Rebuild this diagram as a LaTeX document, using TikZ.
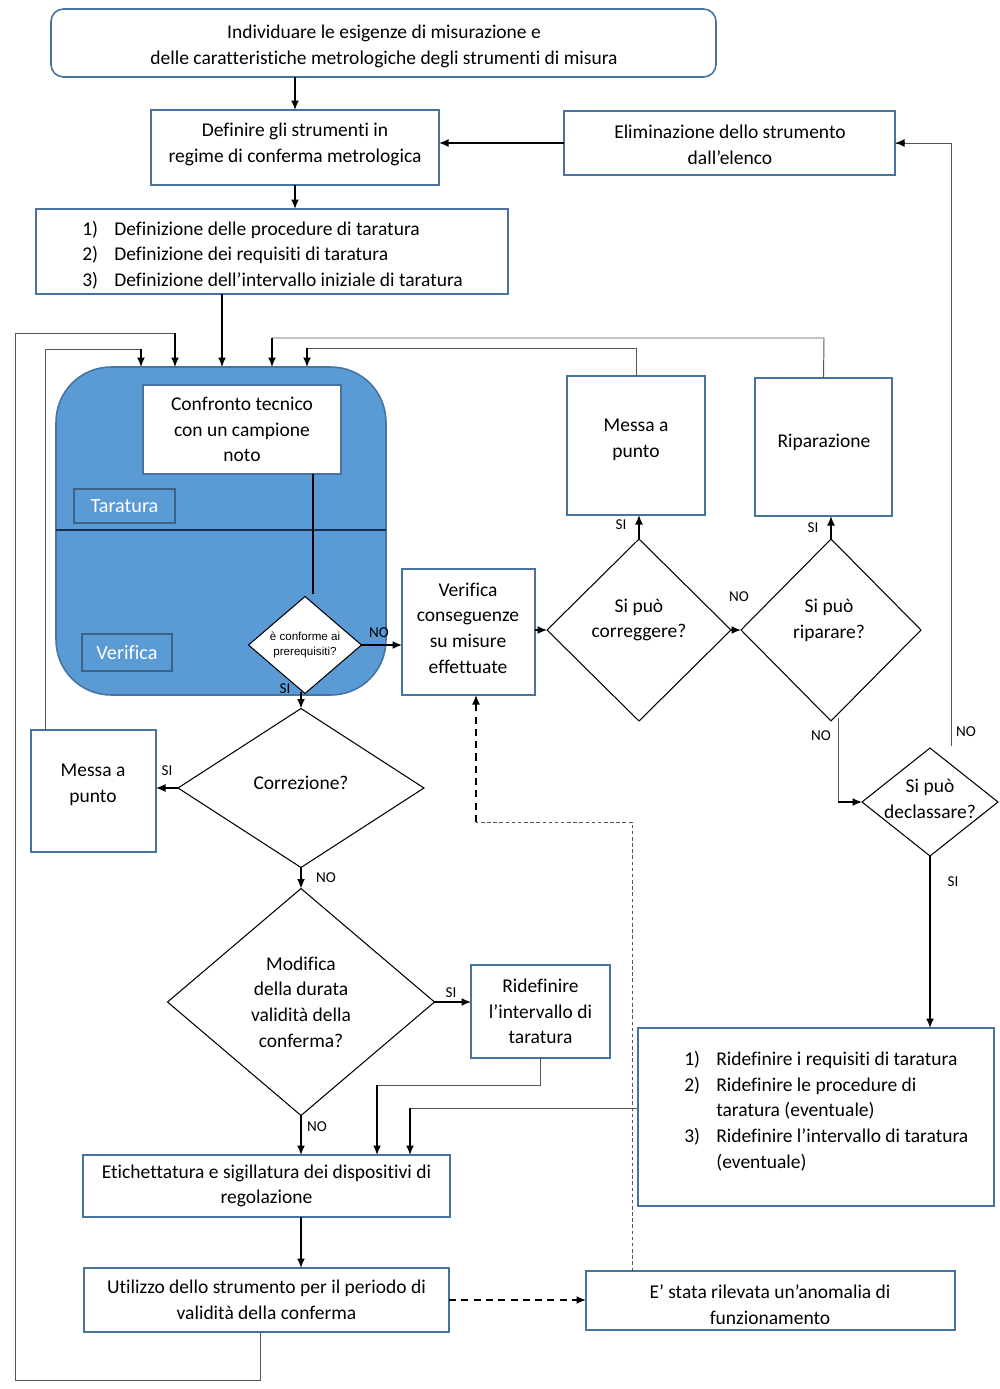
\documentclass[tikz,border=0pt]{standalone}
\usepackage{fontspec}
\setmainfont{Carlito}[Ligatures=NoCommon]
\newfontfamily\smallsans{Liberation Sans}
\usetikzlibrary{shapes.geometric,arrows.meta,calc}
\definecolor{bxc}{RGB}{70,115,160}
\definecolor{bluef}{RGB}{91,155,213}
\definecolor{thingray}{RGB}{85,85,85}
\definecolor{navy}{RGB}{25,45,80}
\newcommand\mainf{\fontsize{11.1}{14.6}\selectfont}
\newcommand\labf{\fontsize{8.6}{9}\selectfont}
\newcommand\smallf{\smallsans\fontsize{6.6}{9}\selectfont}
% \bxnode[opts]{name}{x1}{y1}{x2}{y2}{text}
\newcommand\bxnode[7][]{\node[box,#1, minimum width={(#5-#3)*0.02cm}, minimum height={(#6-#4)*0.02cm}] (#2) at ({(#3+#5)/2},{(#4+#6)/2}) {#7};}
\begin{document}
\begin{tikzpicture}[x=0.02cm,y=-0.02cm,
 box/.style={draw=bxc, line width=0.9pt, inner sep=0, outer sep=0, fill=white, align=center, font=\mainf},
 dia/.style={diamond, draw=black, line width=0.6pt, inner sep=0, outer sep=0, align=center, font=\mainf, fill=white},
 arr/.style={-{Latex[length=1.9mm,width=1.6mm]}, line width=0.85pt},
 thinl/.style={draw=thingray, line width=0.55pt},
 lab/.style={font=\labf, inner sep=0},
 txt/.style={font=\mainf, align=center, inner sep=0},
]
\useasboundingbox[fill=white] (0,0) rectangle (1000,1389);

% boxes
\bxnode[rounded corners=0.25cm]{top}{51}{9}{716}{77}{}
\node[txt] at (384,46.5) {Individuare le esigenze di misurazione e\\delle caratteristiche metrologiche degli strumenti di misura};
\bxnode{def}{151}{110}{439}{185}{}
\node[txt] at (295,144.5) {Definire gli strumenti in\\regime di conferma metrologica};
\bxnode{elim}{564}{111}{895}{175}{}
\node[txt] at (730,145) {Eliminazione dello strumento\\dall’elenco};
\bxnode{defz}{36}{209}{508}{294}{}
\node[txt, align=left, anchor=west] (defzt) at (82,255) {\makebox[0.64cm][l]{1)}Definizione delle procedure di taratura\\\makebox[0.64cm][l]{2)}Definizione dei requisiti di taratura\\\makebox[0.64cm][l]{3)}Definizione dell’intervallo iniziale di taratura};

% blue region
\node[minimum width=6.6cm, minimum height=6.56cm, inner sep=0, outer sep=0, draw=bxc, fill=bluef, rounded corners=1.1cm, line width=0.9pt] (blue) at (221,531) {};
\draw[navy, line width=0.6pt] (blue.west |- 0,530) -- (blue.east |- 0,530);
\node[minimum width=2.02cm, minimum height=0.68cm, inner sep=0, draw=bxc!85!black, line width=0.8pt, text=white, font=\fontsize{11.5}{13}\selectfont] (tar) at (124.5,506) {Taratura};
\node[minimum width=1.8cm, minimum height=0.74cm, inner sep=0, draw=bxc!85!black, line width=0.8pt, text=white, font=\fontsize{11.5}{13}\selectfont] (verl) at (127,652.5) {Verifica};
\bxnode{conf}{143}{385}{341}{474}{Confronto tecnico\\con un campione\\noto}
\node[dia, minimum width=2.26cm, minimum height=1.92cm, font=\smallf] (sd) at (305,645) {è conforme ai\\prerequisiti?};

% middle right
\bxnode{ver}{402}{569}{535}{695}{}
\node[txt] at (468,628) {Verifica\\conseguenze\\su misure\\effettuate};
\node[dia, minimum width=3.68cm, minimum height=3.64cm] (cd) at (639,630) {};
\node[txt] at (639,620) {Si può\\correggere?};
\node[dia, minimum width=3.6cm, minimum height=3.64cm] (rd) at (831,630) {};
\node[txt] at (829,620.5) {Si può\\riparare?};
\bxnode{mpR}{567}{376}{705}{515}{}
\node[txt] at (636,440) {Messa a\\punto};
\bxnode{rip}{755}{378}{892}{516}{}
\node[txt] at (824,442) {Riparazione};
\node[dia, minimum width=2.72cm, minimum height=2.16cm] (decl) at (930,802) {};
\node[txt] at (930,799) {Si può\\declassare?};
\bxnode{ridz}{638}{1028}{994}{1206}{}
\node[txt, align=left, anchor=west] (ridzt) at (684,1111) {\makebox[0.64cm][l]{1)}Ridefinire i requisiti di taratura\\\makebox[0.64cm][l]{2)}Ridefinire le procedure di\\\hspace*{0.64cm}taratura (eventuale)\\\makebox[0.64cm][l]{3)}Ridefinire l’intervallo di taratura\\\hspace*{0.64cm}(eventuale)};

% left/bottom
\node[dia, minimum width=4.92cm, minimum height=3.18cm] (corr) at (301,788) {};
\node[txt] at (301,783) {Correzione?};
\bxnode{mpL}{31}{730}{156}{852}{}
\node[txt] at (93,785) {Messa a\\punto};
\node[dia, minimum width=5.34cm, minimum height=4.54cm] (mod) at (301,1002) {Modifica\\della durata\\validità della\\conferma?};
\bxnode{rint}{471}{965}{610}{1058}{Ridefinire\\l’intervallo di\\taratura}
\bxnode{etich}{83}{1155}{450}{1217}{Etichettatura e sigillatura dei dispositivi di\\regolazione}
\bxnode{util}{84}{1268}{449}{1332}{Utilizzo dello strumento per il periodo di\\validità della conferma}
\bxnode{anom}{586}{1271}{955}{1330}{}
\node[txt] at (770,1305) {E’ stata rilevata un’anomalia di\\funzionamento};

% main connectors
\draw[arr] (top.south -| def.north) -- (def.north);
\draw[arr] (def.south) -- (defz.north -| def.south);
\draw[arr] (elim.west) -- (def.east |- elim.west);
\draw[arr] (222,0 |- defz.south) -- (222,0 |- blue.north);

% loops into blue region
\draw[thinl] (45,0 |- mpL.north) -- (45,349) -- (141,349);
\draw[arr] (141,349) -- (141,0 |- blue.north);
\draw[thinl] (260,0 |- util.south) -- (260,1380) -- (15,1380) -- (15,333) -- (175,333);
\draw[arr] (175,333) -- (175,0 |- blue.north);
\draw[thinl] (mpR.north) -- (636,348) -- (307,348);
\draw[arr] (307,348) -- (307,0 |- blue.north);
\draw[thinl] (rip.north) -- (824,338) -- (272,338);
\draw[arr] (272,338) -- (272,0 |- blue.north);

% inside blue
\draw[line width=0.85pt] (313,0 |- conf.south) -- (313,594);
\draw[arr] (sd.east) -- (ver.west |- sd.east);
\node[lab] at (379,633) {NO};
\draw[arr] (301,692) -- (corr.north);
\node[lab] at (285,689) {SI};

% right chain
\draw[arr] (ver.east |- cd.west) -- (cd.west);
\draw[arr] (cd.north) -- (cd.north |- mpR.south);
\node[lab] at (621,525) {SI};
\draw[arr] (cd.east) -- (rd.west);
\node[lab] at (739,597) {NO};
\draw[arr] (rd.north) -- (rd.north |- rip.south);
\node[lab] at (813,528) {SI};
\coordinate (rdno) at (838,718);
\draw[thinl] (rdno) -- (838,0 |- decl.west);
\draw[arr] (838,0 |- decl.west) -- (decl.west);
\node[lab] at (821,736) {NO};
\coordinate (declno) at (951,746);
\draw[thinl] (declno) -- (951,0 |- elim.east) -- (elim.east);
\draw[arr] ($(elim.east)+(10,0)$) -- (elim.east);
\node[lab] at (966,732) {NO};
\draw[arr] (decl.south) -- (decl.south |- ridz.north);
\node[lab] at (953,882) {SI};
\draw[thinl] (ridz.west |- 0,1108) -- (410,1108);
\draw[arr] (410,1108) -- (410,0 |- etich.north);

% left chain
\draw[arr] (corr.west) -- (mpL.east |- corr.west);
\node[lab] at (167,771) {SI};
\draw[arr] (corr.south) -- (mod.north);
\node[lab] at (326,878) {NO};
\draw[arr] (mod.east) -- (rint.west |- mod.east);
\node[lab] at (451,993) {SI};
\draw[thinl] (540,0 |- rint.south) -- (540,1085) -- (377,1085);
\draw[arr] (377,1085) -- (377,0 |- etich.north);
\draw[arr] (mod.south) -- (mod.south |- etich.north);
\node[lab] at (317,1127) {NO};
\draw[arr] (301,0 |- etich.south) -- (301,0 |- util.north);

% anomaly
\draw[arr, dash pattern=on 4pt off 3pt] (util.east) -- (anom.west |- util.east);
\draw[thinl, dash pattern=on 2pt off 1.5pt] (632,0 |- anom.north) -- (632,822) -- (476,822);
\draw[arr, dash pattern=on 4pt off 3pt] (476,822) -- (476,0 |- ver.south);
\end{tikzpicture}
\end{document}
